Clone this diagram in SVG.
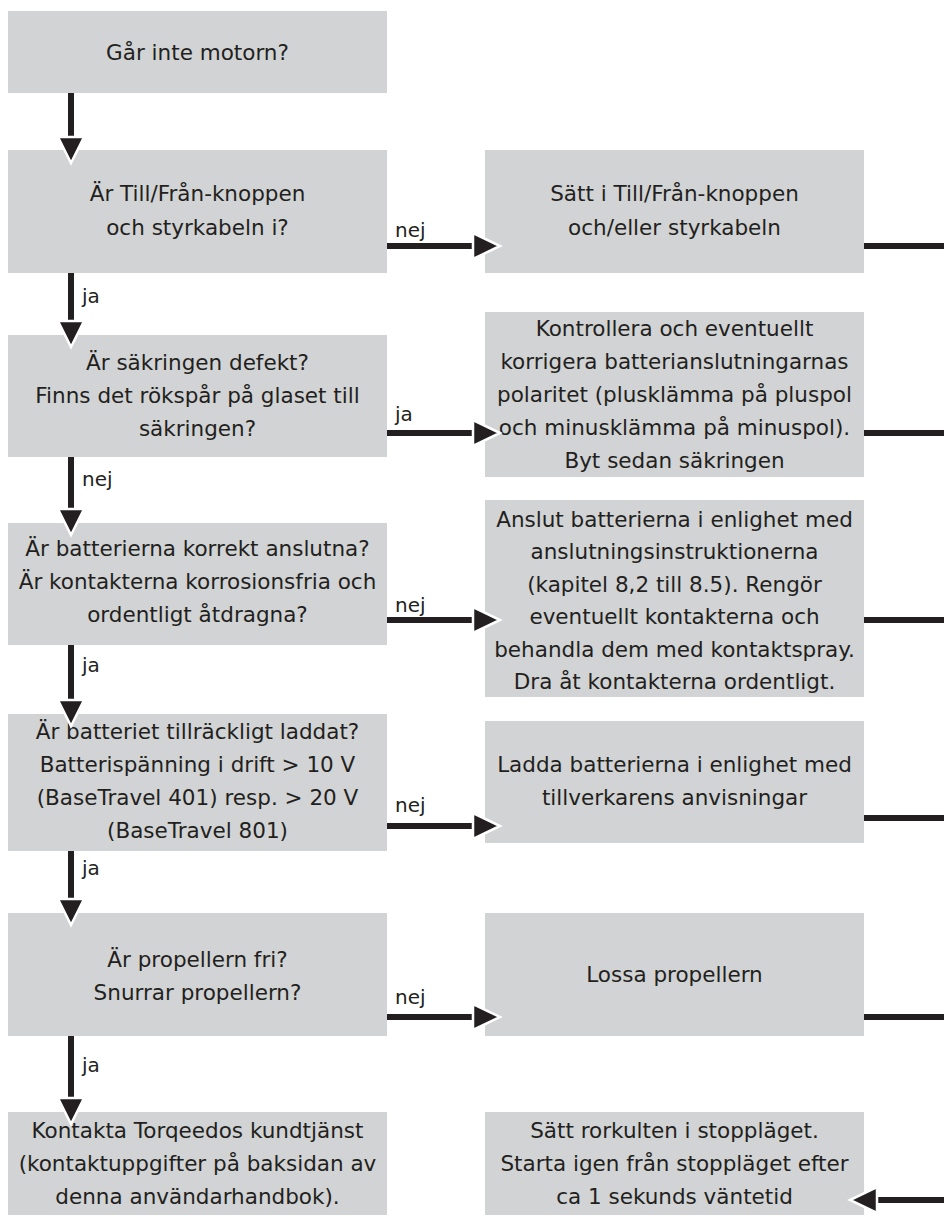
<svg xmlns="http://www.w3.org/2000/svg" width="944" height="1229" viewBox="0 0 944 1229">
<style>
.box{fill:#d1d3d4}
.t{font-family:"DejaVu Sans",sans-serif;font-size:21.5px;fill:#231f20;text-anchor:middle}
.lbl{font-family:"DejaVu Sans",sans-serif;font-size:20px;fill:#231f20}
.ln{stroke:#231f20;stroke-width:6;fill:none}
.ah{fill:#231f20;stroke:#ffffff;stroke-width:2.5;stroke-linejoin:miter}
</style>
<rect width="944" height="1229" fill="#ffffff"/>
<g id="n1"><rect class="box" x="8" y="11" width="379" height="82"/><text class="t" x="197.5" y="60">Går inte motorn?</text></g>
<g id="n2"><rect class="box" x="8" y="150" width="379" height="123"/><text class="t" x="197.5" y="201">Är Till/Från-knoppen</text><text class="t" x="197.5" y="235">och styrkabeln i?</text></g>
<g id="r1"><rect class="box" x="485" y="150" width="379" height="123"/><text class="t" x="674.5" y="201">Sätt i Till/Från-knoppen</text><text class="t" x="674.5" y="235">och/eller styrkabeln</text></g>
<g id="n3"><rect class="box" x="8" y="335" width="379" height="122"/><text class="t" x="197.5" y="370">Är säkringen defekt?</text><text class="t" x="197.5" y="403">Finns det rökspår på glaset till</text><text class="t" x="197.5" y="436">säkringen?</text></g>
<g id="r2"><rect class="box" x="485" y="312" width="379" height="165"/><text class="t" x="674.5" y="336">Kontrollera och eventuellt</text><text class="t" x="674.5" y="369">korrigera batterianslutningarnas</text><text class="t" x="674.5" y="402">polaritet (plusklämma på pluspol</text><text class="t" x="674.5" y="435">och minusklämma på minuspol).</text><text class="t" x="674.5" y="468">Byt sedan säkringen</text></g>
<g id="n4"><rect class="box" x="8" y="523" width="379" height="122"/><text class="t" x="197.5" y="556">Är batterierna korrekt anslutna?</text><text class="t" x="197.5" y="589">Är kontakterna korrosionsfria och</text><text class="t" x="197.5" y="622">ordentligt åtdragna?</text></g>
<g id="r3"><rect class="box" x="485" y="500" width="379" height="197"/><text class="t" x="674.5" y="527">Anslut batterierna i enlighet med</text><text class="t" x="674.5" y="559">anslutningsinstruktionerna</text><text class="t" x="674.5" y="592">(kapitel 8,2 till 8.5). Rengör</text><text class="t" x="674.5" y="624">eventuellt kontakterna och</text><text class="t" x="674.5" y="657">behandla dem med kontaktspray.</text><text class="t" x="674.5" y="689">Dra åt kontakterna ordentligt.</text></g>
<g id="n5"><rect class="box" x="8" y="714" width="379" height="137"/><text class="t" x="197.5" y="739">Är batteriet tillräckligt laddat?</text><text class="t" x="197.5" y="772">Batterispänning i drift &gt; 10 V</text><text class="t" x="197.5" y="805">(BaseTravel 401) resp. &gt; 20 V</text><text class="t" x="197.5" y="838">(BaseTravel 801)</text></g>
<g id="r4"><rect class="box" x="485" y="721" width="379" height="122"/><text class="t" x="674.5" y="772">Ladda batterierna i enlighet med</text><text class="t" x="674.5" y="805">tillverkarens anvisningar</text></g>
<g id="n6"><rect class="box" x="8" y="913" width="379" height="123"/><text class="t" x="197.5" y="967">Är propellern fri?</text><text class="t" x="197.5" y="1000">Snurrar propellern?</text></g>
<g id="r5"><rect class="box" x="485" y="913" width="379" height="123"/><text class="t" x="674.5" y="982">Lossa propellern</text></g>
<g id="n7"><rect class="box" x="8" y="1112" width="379" height="103"/><text class="t" x="197.5" y="1138">Kontakta Torqeedos kundtjänst</text><text class="t" x="197.5" y="1171">(kontaktuppgifter på baksidan av</text><text class="t" x="197.5" y="1204">denna användarhandbok).</text></g>
<g id="r6"><rect class="box" x="485" y="1112" width="379" height="103"/><text class="t" x="674.5" y="1138">Sätt rorkulten i stoppläget.</text><text class="t" x="674.5" y="1171">Starta igen från stoppläget efter</text><text class="t" x="674.5" y="1204">ca 1 sekunds väntetid</text></g>
<g id="connectors">
<line class="ln" x1="71" y1="93" x2="71" y2="138"/><polygon class="ah" points="58,137 84,137 71,163"/>
<line class="ln" x1="71" y1="273" x2="71" y2="322"/><polygon class="ah" points="58,321 84,321 71,347"/>
<line class="ln" x1="71" y1="457" x2="71" y2="510"/><polygon class="ah" points="58,509 84,509 71,535"/>
<line class="ln" x1="71" y1="645" x2="71" y2="701"/><polygon class="ah" points="58,700 84,700 71,726"/>
<line class="ln" x1="71" y1="851" x2="71" y2="900"/><polygon class="ah" points="58,899 84,899 71,925"/>
<line class="ln" x1="71" y1="1036" x2="71" y2="1099"/><polygon class="ah" points="58,1098 84,1098 71,1124"/>
<line class="ln" x1="387" y1="246" x2="474" y2="246"/><polygon class="ah" points="473,233 473,259 500,246"/>
<line class="ln" x1="387" y1="433" x2="474" y2="433"/><polygon class="ah" points="473,420 473,446 500,433"/>
<line class="ln" x1="387" y1="620" x2="474" y2="620"/><polygon class="ah" points="473,607 473,633 500,620"/>
<line class="ln" x1="387" y1="826" x2="474" y2="826"/><polygon class="ah" points="473,813 473,839 500,826"/>
<line class="ln" x1="387" y1="1017" x2="474" y2="1017"/><polygon class="ah" points="473,1004 473,1030 500,1017"/>
<line class="ln" x1="864" y1="246" x2="944" y2="246"/>
<line class="ln" x1="864" y1="433" x2="944" y2="433"/>
<line class="ln" x1="864" y1="620" x2="944" y2="620"/>
<line class="ln" x1="864" y1="818" x2="944" y2="818"/>
<line class="ln" x1="864" y1="1017" x2="944" y2="1017"/>
<line class="ln" x1="944" y1="1200" x2="876" y2="1200"/><polygon class="ah" points="877,1187 877,1213 850,1200"/>
<text class="lbl" x="395" y="237">nej</text>
<text class="lbl" x="395" y="421">ja</text>
<text class="lbl" x="395" y="612">nej</text>
<text class="lbl" x="395" y="812">nej</text>
<text class="lbl" x="395" y="1004">nej</text>
<text class="lbl" x="82" y="303">ja</text>
<text class="lbl" x="82" y="486">nej</text>
<text class="lbl" x="82" y="672">ja</text>
<text class="lbl" x="82" y="875">ja</text>
<text class="lbl" x="82" y="1072">ja</text>
</g>
</svg>
